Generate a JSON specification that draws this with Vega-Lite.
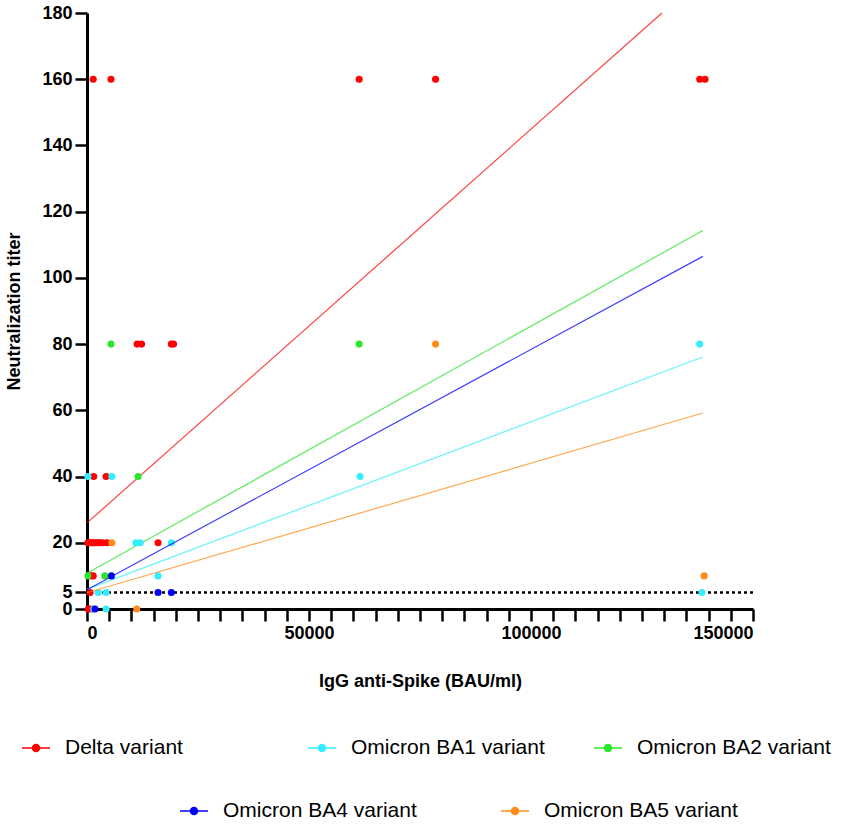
{
  "$schema": "https://vega.github.io/schema/vega-lite/v6.json",
  "width": 666,
  "height": 596,
  "autosize": {"type": "none"},
  "padding": {"left": 87, "top": 13, "right": 98, "bottom": 219},
  "background": "white",
  "config": {
    "view": {"stroke": null},
    "font": "Liberation Sans",
    "axis": {
      "grid": false,
      "domainColor": "black",
      "domainWidth": 3,
      "tickColor": "black",
      "tickWidth": 2.5,
      "tickSize": 12,
      "labelColor": "black",
      "labelFont": "Liberation Sans",
      "labelFontSize": 18,
      "labelFontWeight": "bold",
      "labelPadding": 3,
      "titleColor": "black",
      "titleFont": "Liberation Sans",
      "titleFontSize": 18,
      "titleFontWeight": "bold",
      "labelOverlap": false
    },
    "legend": {
      "labelFont": "Liberation Sans",
      "labelFontSize": 21,
      "labelColor": "black",
      "labelLimit": 400,
      "padding": 0,
      "title": null,
      "orient": "none",
      "direction": "horizontal",
      "gridAlign": "all",
      "symbolType": "M-1,0L1,0M-0.25,0A0.25,0.25,0,1,0,0.25,0A0.25,0.25,0,1,0,-0.25,0Z",
      "symbolSize": 784,
      "symbolStrokeWidth": 1.5,
      "symbolOpacity": 1,
      "labelOffset": 14
    }
  },
  "datasets": {
    "pts": [
      {"variant": "Delta variant", "igg": 1400, "titer": 160},
      {"variant": "Delta variant", "igg": 5400, "titer": 160},
      {"variant": "Delta variant", "igg": 61300, "titer": 160},
      {"variant": "Delta variant", "igg": 78500, "titer": 160},
      {"variant": "Delta variant", "igg": 138000, "titer": 160},
      {"variant": "Delta variant", "igg": 139200, "titer": 160},
      {"variant": "Delta variant", "igg": 11300, "titer": 80},
      {"variant": "Delta variant", "igg": 12300, "titer": 80},
      {"variant": "Delta variant", "igg": 19000, "titer": 80},
      {"variant": "Delta variant", "igg": 19500, "titer": 80},
      {"variant": "Delta variant", "igg": 1500, "titer": 40},
      {"variant": "Delta variant", "igg": 4300, "titer": 40},
      {"variant": "Delta variant", "igg": 200, "titer": 20},
      {"variant": "Delta variant", "igg": 600, "titer": 20},
      {"variant": "Delta variant", "igg": 1000, "titer": 20},
      {"variant": "Delta variant", "igg": 1400, "titer": 20},
      {"variant": "Delta variant", "igg": 1800, "titer": 20},
      {"variant": "Delta variant", "igg": 2200, "titer": 20},
      {"variant": "Delta variant", "igg": 2600, "titer": 20},
      {"variant": "Delta variant", "igg": 3000, "titer": 20},
      {"variant": "Delta variant", "igg": 3500, "titer": 20},
      {"variant": "Delta variant", "igg": 4500, "titer": 20},
      {"variant": "Delta variant", "igg": 16000, "titer": 20},
      {"variant": "Delta variant", "igg": 900, "titer": 10},
      {"variant": "Delta variant", "igg": 1400, "titer": 10},
      {"variant": "Delta variant", "igg": 700, "titer": 5},
      {"variant": "Delta variant", "igg": 300, "titer": 0},
      {"variant": "Delta variant", "igg": 900, "titer": 0},
      {"variant": "Omicron BA1 variant", "igg": 138000, "titer": 80},
      {"variant": "Omicron BA1 variant", "igg": 200, "titer": 40},
      {"variant": "Omicron BA1 variant", "igg": 5600, "titer": 40},
      {"variant": "Omicron BA1 variant", "igg": 61500, "titer": 40},
      {"variant": "Omicron BA1 variant", "igg": 11000, "titer": 20},
      {"variant": "Omicron BA1 variant", "igg": 12000, "titer": 20},
      {"variant": "Omicron BA1 variant", "igg": 19000, "titer": 20},
      {"variant": "Omicron BA1 variant", "igg": 16000, "titer": 10},
      {"variant": "Omicron BA1 variant", "igg": 2500, "titer": 5},
      {"variant": "Omicron BA1 variant", "igg": 4300, "titer": 5},
      {"variant": "Omicron BA1 variant", "igg": 138500, "titer": 5},
      {"variant": "Omicron BA1 variant", "igg": 1500, "titer": 0},
      {"variant": "Omicron BA1 variant", "igg": 4300, "titer": 0},
      {"variant": "Omicron BA2 variant", "igg": 5400, "titer": 80},
      {"variant": "Omicron BA2 variant", "igg": 61300, "titer": 80},
      {"variant": "Omicron BA2 variant", "igg": 11500, "titer": 40},
      {"variant": "Omicron BA2 variant", "igg": 200, "titer": 10},
      {"variant": "Omicron BA2 variant", "igg": 4000, "titer": 10},
      {"variant": "Omicron BA4 variant", "igg": 5500, "titer": 10},
      {"variant": "Omicron BA4 variant", "igg": 16000, "titer": 5},
      {"variant": "Omicron BA4 variant", "igg": 19000, "titer": 5},
      {"variant": "Omicron BA4 variant", "igg": 1800, "titer": 0},
      {"variant": "Omicron BA5 variant", "igg": 78500, "titer": 80},
      {"variant": "Omicron BA5 variant", "igg": 5600, "titer": 20},
      {"variant": "Omicron BA5 variant", "igg": 139000, "titer": 10},
      {"variant": "Omicron BA5 variant", "igg": 11200, "titer": 0}
    ],
    "fits": [
      {"variant": "Delta variant", "igg": 0, "titer": 26},
      {"variant": "Delta variant", "igg": 129500, "titer": 180},
      {"variant": "Omicron BA1 variant", "igg": 0, "titer": 6},
      {"variant": "Omicron BA1 variant", "igg": 138700, "titer": 76.1},
      {"variant": "Omicron BA2 variant", "igg": 0, "titer": 10.8},
      {"variant": "Omicron BA2 variant", "igg": 138700, "titer": 114.3},
      {"variant": "Omicron BA4 variant", "igg": 0, "titer": 5.8},
      {"variant": "Omicron BA4 variant", "igg": 138700, "titer": 106.5},
      {"variant": "Omicron BA5 variant", "igg": 0, "titer": 4.9},
      {"variant": "Omicron BA5 variant", "igg": 138700, "titer": 59.2}
    ],
    "cutoff": [{"titer": 5}]
  },
  "encoding": {
    "x": {
      "field": "igg",
      "type": "quantitative",
      "title": "IgG anti-Spike (BAU/ml)",
      "scale": {"domain": [0, 150000], "nice": false},
      "axis": {
        "values": [0, 5000, 10000, 15000, 20000, 25000, 30000, 35000, 40000, 45000, 50000, 55000, 60000, 65000, 70000, 75000, 80000, 85000, 90000, 95000, 100000, 105000, 110000, 115000, 120000, 125000, 130000, 135000, 140000, 145000, 150000],
        "format": "d",
        "labelExpr": "datum.value % 50000 === 0 ? datum.label : ''",
        "titlePadding": 30
      }
    },
    "y": {
      "field": "titer",
      "type": "quantitative",
      "title": "Neutralization titer",
      "scale": {"domain": [0, 180], "nice": false},
      "axis": {
        "values": [0, 5, 20, 40, 60, 80, 100, 120, 140, 160, 180],
        "titlePadding": 18
      }
    }
  },
  "resolve": {"scale": {"color": "independent"}},
  "layer": [
    {
      "data": {"name": "cutoff"},
      "mark": {"type": "rule", "color": "black", "strokeWidth": 2.5, "strokeDash": [3, 3]},
      "encoding": {"x": null, "y": {"field": "titer", "type": "quantitative"}}
    },
    {
      "transform": [{"filter": {"field": "variant", "oneOf": ["Delta variant", "Omicron BA1 variant", "Omicron BA2 variant"]}}],
      "encoding": {
        "color": {
          "field": "variant",
          "type": "nominal",
          "scale": {"domain": ["Delta variant", "Omicron BA1 variant", "Omicron BA2 variant"], "range": ["#FF0000", "#33EEFF", "#2BE62B"]},
          "legend": {"legendX": -66, "legendY": 720, "columns": 3, "columnPadding": 46}
        }
      },
      "layer": [
        {"data": {"name": "fits"}, "mark": {"type": "line", "strokeWidth": 1.2, "opacity": 0.75}},
        {"data": {"name": "pts"}, "mark": {"type": "circle", "size": 50, "opacity": 1}}
      ]
    },
    {
      "transform": [{"filter": {"field": "variant", "oneOf": ["Omicron BA4 variant", "Omicron BA5 variant"]}}],
      "encoding": {
        "color": {
          "field": "variant",
          "type": "nominal",
          "scale": {"domain": ["Omicron BA4 variant", "Omicron BA5 variant"], "range": ["#0000FF", "#FF8C1A"]},
          "legend": {"legendX": 92, "legendY": 783, "columns": 2, "columnPadding": 81}
        }
      },
      "layer": [
        {"data": {"name": "fits"}, "mark": {"type": "line", "strokeWidth": 1.2, "opacity": 0.75}},
        {"data": {"name": "pts"}, "mark": {"type": "circle", "size": 50, "opacity": 1}}
      ]
    }
  ]
}
